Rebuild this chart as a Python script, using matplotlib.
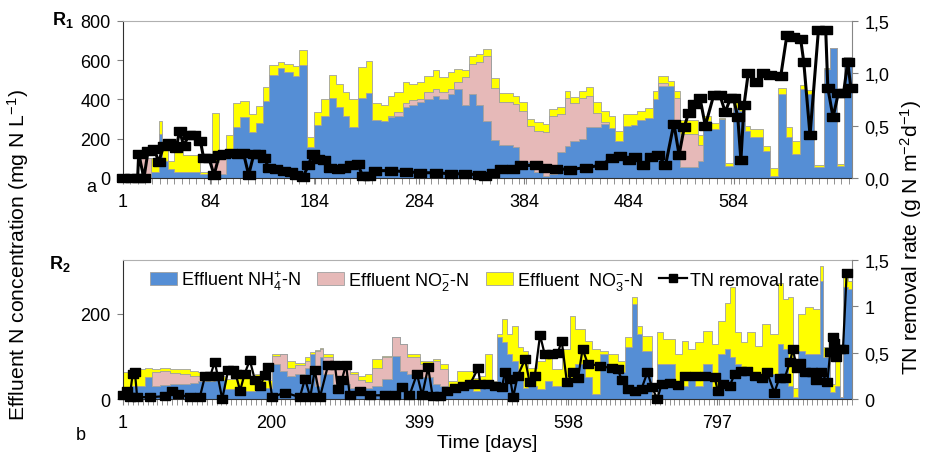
import numpy as np
import matplotlib.pyplot as plt
from matplotlib.patches import Patch
from matplotlib.lines import Line2D
from matplotlib.ticker import FixedLocator

plt.rcParams['font.family'] = ['Liberation Sans', 'DejaVu Sans']
plt.rcParams['mathtext.fontset'] = 'custom'
plt.rcParams['mathtext.rm'] = 'Liberation Sans'
plt.rcParams['mathtext.it'] = 'Liberation Sans:italic'
plt.rcParams['mathtext.bf'] = 'Liberation Sans:bold'

# ---- R1 (panel a): effluent N species, mg N/L, step values per sampling period
r1_day = [1, 18, 28, 35, 38, 44, 50, 58, 75, 86, 93, 99, 106, 113, 121, 128, 135, 140,
          149, 155, 163, 169, 177, 183, 190, 198, 204, 211, 217, 225, 233, 239, 247, 254,
          260, 268, 274, 282, 288, 297, 303, 311, 317, 325, 331, 338, 345, 352, 360, 373,
          379, 387, 393, 402, 408, 415, 423, 428, 436, 443, 450, 457, 465, 471, 478, 486,
          492, 499, 507, 512, 521, 527, 533, 550, 555, 562, 570, 576, 583, 589, 595, 600,
          612, 619, 626, 634, 640, 647, 653, 661, 670, 676, 683, 689]
r1_nh4 = [0, 0, 30, 225, 85, 45, 30, 30, 20, 10, 20, 140, 260, 310, 234, 281, 390, 525,
          558, 542, 522, 576, 158, 271, 318, 407, 361, 318, 260, 407, 432, 293, 288, 310,
          315, 361, 370, 386, 403, 420, 400, 429, 454, 373, 427, 373, 288, 193, 168, 159,
          88, 83, 30, 10, 20, 130, 164, 190, 198, 261, 261, 275, 254, 186, 266, 271,
          295, 308, 402, 470, 470, 258, 54, 88, 292, 249, 300, 63, 359, 340, 241, 207,
          139, 12, 427, 210, 122, 453, 430, 58, 554, 664, 63, 614]
r1_no2 = [0, 100, 0, 0, 0, 0, 0, 0, 0, 70, 80, 0, 0, 0, 0, 0, 0, 0,
          0, 0, 0, 0, 0, 0, 0, 0, 0, 0, 0, 0, 0, 0, 0, 5,
          21, 22, 25, 17, 34, 34, 37, 25, 34, 140, 156, 220, 334, 268, 217, 217,
          254, 183, 207, 222, 297, 195, 243, 190, 209, 158, 68, 8, 0, 0, 0, 0,
          0, 0, 0, 16, 0, 152, 170, 82, 0, 0, 0, 0, 0, 0, 0, 0,
          0, 0, 0, 0, 0, 0, 0, 0, 0, 0, 0, 0]
r1_no3 = [0, 0, 70, 63, 75, 40, 110, 85, 10, 250, 0, 77, 123, 80, 93, 85, 73, 51,
          32, 38, 48, 76, 50, 64, 85, 118, 119, 119, 143, 157, 166, 88, 82, 105,
          101, 105, 85, 85, 82, 97, 78, 85, 68, 35, 39, 41, 37, 48, 46, 43,
          43, 34, 46, 43, 34, 38, 34, 34, 34, 45, 56, 56, 63, 55, 59, 54,
          47, 48, 39, 34, 25, 34, 71, 50, 25, 29, 8, 12, 26, 36, 25, 42,
          25, 39, 34, 51, 68, 22, 20, 10, 5, 0, 8, 0]

# ---- R1 TN removal rate, g N m-2 d-1
r1_tn_day = [1, 9, 15, 16, 21, 25, 31, 35, 40, 45, 52, 55, 59, 64, 69, 75, 78, 83, 88, 93,
             97, 104, 111, 116, 121, 126, 131, 136, 140, 147, 155, 161, 166, 173, 178, 182,
             187, 193, 199, 206, 212, 219, 225, 230, 236, 242, 257, 271, 285, 300, 314, 328,
             341, 347, 354, 362, 373, 381, 395, 404, 414, 428, 443, 457, 468, 476, 484, 490,
             498, 505, 512, 519, 527, 532, 537, 541, 546, 552, 557, 565, 571, 576, 581, 584,
             588, 591, 594, 598, 605, 612, 619, 629, 635, 641, 648, 651, 657, 665, 672, 674,
             679, 684, 689, 693, 696]
r1_tn = [0, 0, 0, 0.23, 0, 0.26, 0.28, 0.15, 0.31, 0.33, 0.29, 0.45, 0.31, 0.41, 0.41, 0.35,
         0.19, 0.19, 0.03, 0.22, 0.23, 0.24, 0.23, 0.24, 0.03, 0.23, 0.23, 0.19, 0.10, 0.09,
         0.07, 0.06, 0.03, 0.01, 0.12, 0.23, 0.18, 0.17, 0.10, 0.09, 0.10, 0.12, 0.13, 0.02,
         0.02, 0.07, 0.07, 0.06, 0.05, 0.05, 0.04, 0.04, 0.03, 0.02, 0.05, 0.09, 0.09, 0.12,
         0.12, 0.10, 0.09, 0.08, 0.10, 0.12, 0.19, 0.21, 0.17, 0.20, 0.12, 0.20, 0.22, 0.12,
         0.52, 0.22, 0.49, 0.62, 0.71, 0.76, 0.50, 0.79, 0.79, 0.63, 0.76, 0.76, 0.58, 0.17,
         0.70, 1.0, 0.92, 1.0, 0.98, 0.97, 1.37, 1.35, 1.33, 1.11, 0.41, 1.41, 1.41, 0.86,
         0.58, 0.81, 0.81, 1.11, 0.86]

# ---- R2 (panel b)
r2_day = [1, 10, 30, 40, 51, 64, 77, 91, 101, 111, 124, 138, 151, 164, 178, 191, 201, 211,
          221, 231, 245, 252, 258, 265, 269, 282, 305, 316, 325, 335, 348, 361, 372, 382,
          399, 416, 426, 437, 449, 470, 479, 486, 495, 502, 509, 516, 522, 530, 537, 544,
          556, 566, 576, 589, 600, 607, 620, 629, 640, 651, 664, 674, 683, 690, 696, 710,
          717, 725, 741, 750, 758, 768, 778, 790, 798, 808, 814, 821, 830, 838, 848, 857,
          868, 879, 885, 892, 899, 906, 915, 926, 935, 939, 948, 955, 962, 966, 973]
r2_nh4 = [20, 31, 51, 31, 33, 36, 35, 38, 43, 43, 45, 24, 27, 20, 22, 25, 82, 67,
          55, 60, 74, 107, 31, 98, 59, 35, 27, 27, 25, 30, 47, 102, 67, 59,
          51, 35, 31, 20, 27, 20, 35, 35, 24, 145, 133, 106, 90, 51, 27, 31,
          24, 43, 31, 35, 43, 82, 51, 12, 106, 74, 63, 122, 223, 153, 114, 8,
          82, 82, 43, 31, 55, 31, 82, 27, 106, 118, 98, 82, 71, 63, 47, 71,
          59, 129, 118, 31, 4, 114, 106, 106, 278, 98, 16, 31, 4, 263, 259]
r2_no2 = [0, 0, 0, 32, 32, 26, 25, 17, 12, 0, 0, 0, 0, 0, 0, 0, 18, 39,
          19, 20, 16, 0, 83, 20, 39, 39, 33, 18, 15, 44, 51, 43, 62, 39,
          31, 55, 40, 5, 0, 0, 0, 0, 0, 0, 0, 0, 0, 0, 0, 0,
          0, 0, 0, 0, 0, 0, 0, 0, 0, 0, 0, 0, 0, 0, 0, 0,
          0, 0, 0, 0, 0, 0, 0, 0, 0, 0, 0, 0, 0, 0, 0, 0,
          0, 0, 0, 0, 0, 0, 0, 0, 0, 0, 0, 0, 0, 0, 0]
r2_no3 = [43, 39, 23, 7, 7, 8, 10, 11, 8, 16, 10, 23, 33, 30, 38, 20, 6, 0,
          16, 5, 8, 3, 2, 3, 8, 16, 3, 10, 20, 20, 2, 2, 1, 8,
          8, 4, 11, 18, 40, 30, 20, 71, 19, 8, 55, 47, 82, 71, 87, 43,
          66, 63, 40, 83, 153, 83, 86, 106, 8, 32, 27, 23, 16, 19, 35, 4,
          75, 59, 63, 106, 63, 102, 79, 102, 78, 109, 165, 75, 62, 94, 78, 105,
          94, 145, 117, 208, 23, 86, 110, 106, 36, 24, 19, 91, 0, 31, 19]

r2_tn_day = [1, 6, 10, 14, 17, 20, 37, 57, 67, 75, 91, 104, 111, 118, 124, 128, 134, 142,
             148, 152, 158, 164, 171, 178, 185, 191, 195, 201, 218, 238, 245, 252, 258, 265,
             276, 285, 289, 294, 300, 305, 319, 332, 352, 365, 375, 385, 395, 402, 410, 416,
             426, 435, 446, 457, 466, 477, 480, 490, 499, 509, 513, 520, 524, 530, 540, 546,
             553, 560, 566, 576, 584, 589, 596, 604, 611, 617, 624, 640, 656, 664, 670, 678,
             687, 696, 704, 710, 717, 723, 734, 745, 754, 768, 781, 794, 798, 805, 814, 821,
             830, 838, 848, 857, 864, 874, 881, 888, 895, 899, 904, 908, 915, 924, 930, 937,
             945, 949, 952, 954, 957, 962, 966, 971]
r2_tn = [0.04, 0.09, 0.02, 0.27, 0.29, 0.02, 0.02, 0.03, 0.09, 0.05, 0.02, 0.02, 0.25, 0.25,
         0.40, 0.25, 0.0, 0.31, 0.31, 0.27, 0.09, 0.27, 0.42, 0.20, 0.14, 0.26, 0.34, 0.02,
         0.07, 0.02, 0.22, 0.02, 0.31, 0.02, 0.37, 0.37, 0.11, 0.20, 0.37, 0.04, 0.09, 0.04,
         0.04, 0.04, 0.13, 0.04, 0.27, 0.04, 0.34, 0.03, 0.03, 0.09, 0.12, 0.14, 0.16, 0.33,
         0.16, 0.16, 0.14, 0.13, 0.29, 0.22, 0.02, 0.25, 0.43, 0.18, 0.25, 0.69, 0.49, 0.49,
         0.50, 0.63, 0.18, 0.29, 0.23, 0.54, 0.38, 0.36, 0.33, 0.32, 0.20, 0.11, 0.09, 0.11,
         0.29, 0.13, 0.0, 0.16, 0.17, 0.15, 0.25, 0.25, 0.25, 0.24, 0.09, 0.16, 0.14, 0.27,
         0.30, 0.30, 0.25, 0.23, 0.29, 0.07, 0.23, 0.23, 0.40, 0.54, 0.33, 0.39, 0.29, 0.29,
         0.20, 0.29, 0.18, 0.51, 0.67, 0.60, 0.45, 0.54, 0.54, 1.36]

r1_xticks = [1, 84, 184, 284, 384, 484, 584]
r2_xticks = [1, 200, 399, 598, 797]

BLUE = '#558ED5'
PINK = '#E6B9B8'
YELLOW = '#FFFF00'
EDGE = '#A0A0A0'
rect = [(-1.4, -1), (1.4, -1), (1.4, 1), (-1.4, 1), (-1.4, -1)]  # wide square marker


def draw_panel(ax, day, nh4, no2, no3, tn_day, tn, xmax, ymax, xticks, minor_step, rlabels, ms, lw):
    x = np.append(day, xmax)
    b = np.append(nh4, nh4[-1])
    p = b + np.append(no2, no2[-1])
    y = p + np.append(no3, no3[-1])
    ax.fill_between(x, 0, b, step='post', facecolor=BLUE, edgecolor=EDGE, lw=0.6)
    ax.fill_between(x, b, p, step='post', facecolor=PINK, edgecolor=EDGE, lw=0.6)
    ax.fill_between(x, p, y, step='post', facecolor=YELLOW, edgecolor=EDGE, lw=0.6)
    ax.set_xlim(1, xmax)
    ax.set_ylim(0, ymax)
    ax.set_xticks(xticks)
    ax.set_xticklabels([str(t) for t in xticks])
    ax.xaxis.set_minor_locator(FixedLocator(np.arange(1, xmax, minor_step)))
    ax.tick_params(axis='x', which='both', direction='out', length=4, color='#808080',
                   labelsize=13, pad=6.5)
    ax.tick_params(axis='y', direction='out', length=4, color='#808080', labelsize=13, pad=5)
    ax.spines['left'].set_color('#303030')
    ax.spines['bottom'].set_color('#303030')
    ax.spines['top'].set_color('#B0B0B0')
    ax.spines['right'].set_visible(False)

    axr = ax.twinx()
    axr.plot(tn_day, tn, color='black', lw=lw, marker=rect, ms=ms, clip_on=False, zorder=5)
    axr.set_ylim(0, 1.5)
    axr.set_yticks([0, 0.5, 1.0, 1.5])
    axr.set_yticklabels(rlabels)
    axr.tick_params(axis='y', direction='out', length=4, color='#808080', labelsize=13, pad=5)
    for s in ['left', 'top', 'bottom']:
        axr.spines[s].set_visible(False)
    axr.spines['right'].set_color('#868686')
    return axr


fig = plt.figure(figsize=(9.26, 4.56), dpi=100)
ax1 = fig.add_axes([0.1328, 0.6075, 0.7872, 0.3443])
ax2 = fig.add_axes([0.1328, 0.1228, 0.7872, 0.3048])

draw_panel(ax1, r1_day, np.array(r1_nh4), np.array(r1_no2), np.array(r1_no3),
           r1_tn_day, r1_tn, 697, 800, r1_xticks, 7, ['0,0', '0,5', '1,0', '1,5'], 9, 2.2)
ax1.set_yticks([0, 200, 400, 600, 800])
axr2 = draw_panel(ax2, r2_day, np.array(r2_nh4), np.array(r2_no2), np.array(r2_no3),
                  r2_tn_day, r2_tn, 978, 327, r2_xticks, 6.6, ['0', '0,5', '1', '1,5'], 7.5, 1.6)
ax2.set_yticks([0, 200])

handles = [Patch(facecolor=BLUE, edgecolor=EDGE, lw=0.6),
           Patch(facecolor=PINK, edgecolor=EDGE, lw=0.6),
           Patch(facecolor=YELLOW, edgecolor=EDGE, lw=0.6),
           Line2D([], [], color='black', lw=1.6, marker='s', ms=6)]
labels = [r'Effluent NH$_4^{+}$-N', r'Effluent NO$_2^{-}$-N', r'Effluent  NO$_3^{-}$-N',
          'TN removal rate']
axr2.legend(handles, labels, loc='upper left', bbox_to_anchor=(0.022, 1.02), ncol=4,
            frameon=False, fontsize=13, handlelength=1.5, handleheight=0.7,
            handletextpad=0.2, columnspacing=0.95, borderaxespad=0.2)

fig.text(0.056, 0.956, r'$\mathbf{R_1}$', fontsize=13, ha='left', va='center')
fig.text(0.053, 0.421, r'$\mathbf{R_2}$', fontsize=13, ha='left', va='center')
fig.text(0.099, 0.588, 'a', fontsize=13, ha='center', va='center')
fig.text(0.087, 0.046, 'b', fontsize=13, ha='center', va='center')
fig.text(0.019, 0.44, r'Effluent N concentration (mg N L$^{-1}$)', rotation=90,
         fontsize=15.2, ha='center', va='center')
fig.text(0.984, 0.48, r'TN removal rate (g N m$^{-2}$d$^{-1}$)', rotation=90,
         fontsize=15.2, ha='center', va='center')
fig.text(0.526, 0.028, 'Time [days]', fontsize=14, ha='center', va='center')

fig.savefig('out.png', dpi=100)
